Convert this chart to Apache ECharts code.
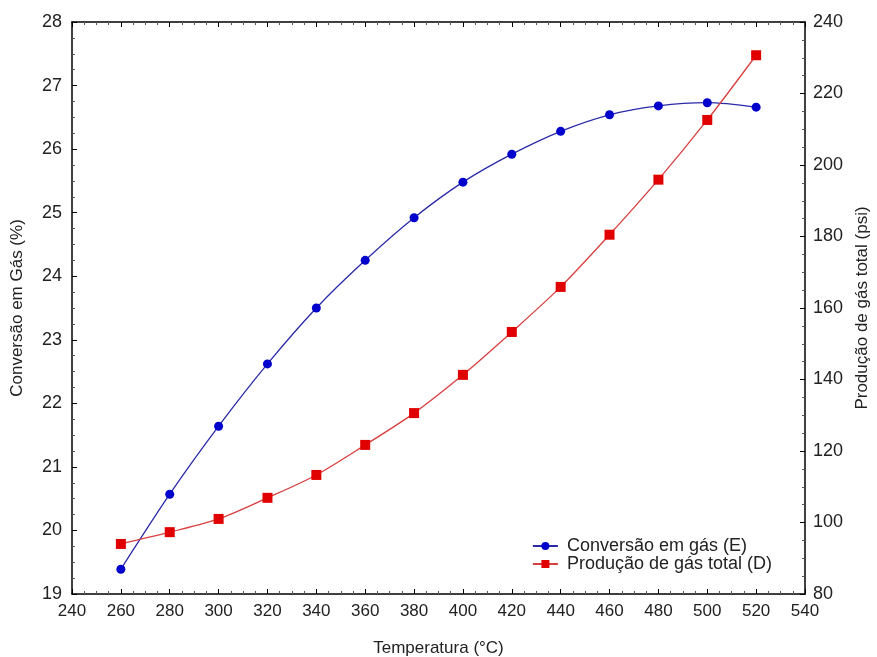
<!DOCTYPE html>
<html>
<head>
<meta charset="utf-8">
<script src="https://cdn.jsdelivr.net/npm/echarts@6/dist/echarts.min.js"></script>
<style>
  html, body { margin: 0; padding: 0; background: #fff; }
  #main { width: 877px; height: 657px; }
</style>
</head>
<body>
<div id="main"></div>
<script>
// dados
var temperaturas = [260, 280, 300, 320, 340, 360, 380, 400, 420, 440, 460, 480, 500, 520]
var conversaoGas = [19.39, 20.57, 21.64, 22.62, 23.50, 24.25, 24.92, 25.48, 25.92, 26.28, 26.54, 26.68, 26.73, 26.66]
var producaoGas = [94.0, 97.3, 101.0, 106.9, 113.3, 121.7, 130.6, 141.3, 153.3, 165.9, 180.5, 195.9, 212.6, 230.7]

var fonte = 'Liberation Sans, Arial, sans-serif'
var corTexto = '#222'

function pares(xs, ys) {
  return xs.map(function (x, i) { return [x, ys[i]] })
}

var eixoBase = {
  axisLine: { show: true, onZero: false, lineStyle: { color: '#000', width: 1.5 } },
  axisTick: { show: true, inside: true, length: 5, lineStyle: { color: '#000' } },
  minorTick: { show: true, splitNumber: 4, length: 3, lineStyle: { color: '#555' } },
  splitLine: { show: false },
  axisLabel: { color: corTexto, fontSize: 17, fontFamily: fonte, margin: 9 }
}
var estiloNome = { color: corTexto, fontSize: 17, fontFamily: fonte }

var chart = echarts.init(document.getElementById('main'))
chart.setOption({
  animation: false,
  backgroundColor: '#fff',
  grid: { left: 72, right: 72, top: 22, bottom: 63, outerBoundsMode: 'none' },
  legend: {
    right: 100,
    top: 532,
    orient: 'vertical',
    itemWidth: 25,
    itemHeight: 10,
    itemGap: 0,
    textStyle: { color: corTexto, fontSize: 18, fontFamily: fonte, padding: [0, 0, 0, 4] },
    data: ['Conversão em gás (E)', 'Produção de gás total (D)']
  },
  xAxis: [
    Object.assign({}, eixoBase, {
      type: 'value', min: 240, max: 540, interval: 20,
      name: 'Temperatura (°C)', nameLocation: 'middle', nameGap: 46,
      nameTextStyle: estiloNome
    }),
    Object.assign({}, eixoBase, {
      type: 'value', min: 240, max: 540, interval: 20, position: 'top',
      axisLabel: { show: false }
    })
  ],
  yAxis: [
    Object.assign({}, eixoBase, {
      type: 'value', min: 19, max: 28, interval: 1,
      axisLabel: { color: corTexto, fontSize: 18, fontFamily: fonte, margin: 10 },
      name: 'Conversão em Gás (%)', nameLocation: 'middle', nameGap: 46, nameRotate: 90,
      nameTextStyle: estiloNome
    }),
    Object.assign({}, eixoBase, {
      type: 'value', min: 80, max: 240, interval: 20, position: 'right',
      axisLabel: { color: corTexto, fontSize: 18, fontFamily: fonte, margin: 8 },
      name: 'Produção de gás total (psi)', nameLocation: 'middle', nameGap: 45, nameRotate: 90,
      nameTextStyle: estiloNome
    })
  ],
  series: [
    {
      name: 'Conversão em gás (E)',
      type: 'line',
      smooth: 0.3,
      yAxisIndex: 0,
      symbol: 'circle',
      symbolSize: 9,
      itemStyle: { color: '#0000cc' },
      lineStyle: { color: '#2a2aa8', width: 1.3 },
      data: pares(temperaturas, conversaoGas)
    },
    {
      name: 'Produção de gás total (D)',
      type: 'line',
      smooth: 0.3,
      yAxisIndex: 1,
      symbol: 'rect',
      symbolSize: 10,
      itemStyle: { color: '#e00000' },
      lineStyle: { color: '#d84040', width: 1.3 },
      data: pares(temperaturas, producaoGas)
    }
  ]
})
</script>
</body>
</html>
